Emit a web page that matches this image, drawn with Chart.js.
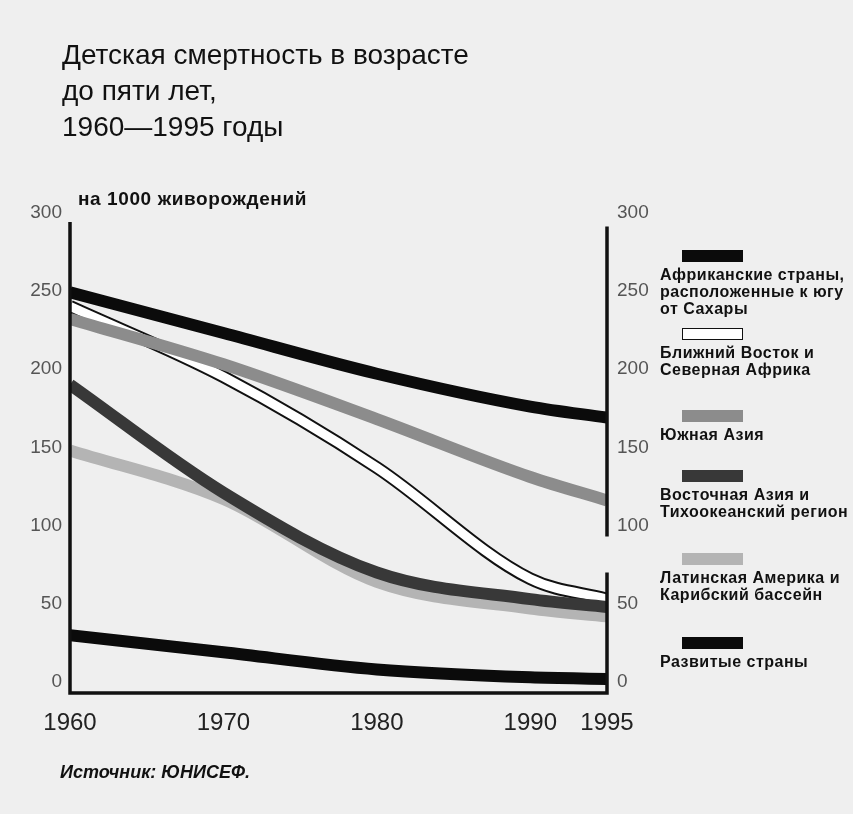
<!DOCTYPE html>
<html lang="ru">
<head>
<meta charset="utf-8">
<title>Детская смертность в возрасте до пяти лет, 1960—1995 годы</title>
<script src="https://cdn.jsdelivr.net/npm/chart.js@4.4.1/dist/chart.umd.min.js"></script>
<style>
    html, body { margin: 0; padding: 0; }
    body {
        width: 853px; height: 814px; position: relative; overflow: hidden;
        background: #efefef; color: #111;
        font-family: "Liberation Sans", Arial, sans-serif;
    }
    #chart { position: absolute; left: 0; top: 0; }
    .title { position: absolute; left: 62px; top: 37px; margin: 0; font-size: 28px; line-height: 36px; font-weight: normal; }
    .unit { position: absolute; left: 78px; top: 188px; font-size: 19px; letter-spacing: 0.6px; font-weight: bold; }
    .source { position: absolute; left: 60px; top: 762px; font-size: 18px; font-weight: bold; font-style: italic; }
    .item { position: absolute; left: 660px; }
    .item .sw { position: absolute; left: 22px; top: 0; width: 61px; height: 12px; box-sizing: border-box; }
    .item .txt { position: absolute; left: 0; top: 16px; font-size: 16px; letter-spacing: 0.5px; line-height: 17px; font-weight: bold; white-space: nowrap; }
</style>
</head>
<body>
<canvas id="chart" width="853" height="814"></canvas>
<h1 class="title">Детская смертность в возрасте<br>до пяти лет,<br>1960—1995 годы</h1>
<div class="unit">на 1000 живорождений</div>
<div class="source">Источник: ЮНИСЕФ.</div>
<div id="legend"></div>
<script>
// under-5 deaths per 1000 live births
const years = [1960, 1970, 1980, 1990, 1995];
const yearTicks = [1960, 1970, 1980, 1990, 1995];
const valueTicks = [0, 50, 100, 150, 200, 250, 300];

const africa = [249, 223, 197, 176, 169];
const middleEast = [240, 195, 137, 66, 53];
const southAsia = [232, 203, 168, 131, 116];
const eastAsia = [190, 121, 70, 53, 48];
const latinAmerica = [148, 117, 64, 47, 42];
const developed = [30, 19, 8, 3, 2];

const regionNames = [
    ["Африканские страны,", "расположенные к югу", "от Сахары"],
    ["Ближний Восток и", "Северная Африка"],
    ["Южная Азия"],
    ["Восточная Азия и", "Тихоокеанский регион"],
    ["Латинская Америка и", "Карибский бассейн"],
    ["Развитые страны"]
];

// layout
const legendTops = [250, 328, 410, 470, 553, 637];
const BAND = 12;

const pts = vals => vals.map((v, i) => ({ x: years[i], y: v }));

function band(data, color, order, width) {
    return {
        data: pts(data),
        borderColor: color,
        borderWidth: width || BAND,
        borderCapStyle: "butt",
        borderJoinStyle: "round",
        cubicInterpolationMode: "monotone",
        pointRadius: 0,
        fill: false,
        order: order
    };
}

// white band drawn over a slightly wider black one gives the outlined line
const datasets = [
    band(africa, "#0b0b0b", 1),
    band(middleEast, "#ffffff", 4, 9),
    band(middleEast, "#111111", 5, 13),
    band(southAsia, "#8c8c8c", 3),
    band(eastAsia, "#383838", 2),
    band(latinAmerica, "#b4b4b4", 6),
    band(developed, "#0b0b0b", 1)
];

const swatchStyles = [
    { background: "#0b0b0b" },
    { background: "#ffffff", border: "1.5px solid #111" },
    { background: "#8c8c8c" },
    { background: "#383838" },
    { background: "#b4b4b4" },
    { background: "#0b0b0b" }
];

// frame: left and bottom axes, right axis with a short break near 70-93
const axisLines = {
    id: "axisLines",
    afterDatasetsDraw(chart) {
        const { ctx, chartArea: a, scales } = chart;
        const y = scales.y;
        ctx.save();
        ctx.strokeStyle = "#111";
        ctx.lineWidth = 3.5;
        ctx.beginPath();
        ctx.moveTo(a.left, y.getPixelForValue(294));
        ctx.lineTo(a.left, a.bottom);
        ctx.moveTo(a.left - 1.75, a.bottom);
        ctx.lineTo(a.right + 1.75, a.bottom);
        ctx.moveTo(a.right, y.getPixelForValue(291));
        ctx.lineTo(a.right, y.getPixelForValue(93));
        ctx.moveTo(a.right, y.getPixelForValue(70));
        ctx.lineTo(a.right, a.bottom);
        ctx.stroke();
        ctx.restore();
    }
};

const tickFont = { family: "'Liberation Sans', Arial, sans-serif", size: 19 };

new Chart(document.getElementById("chart"), {
    type: "line",
    data: { datasets },
    options: {
        responsive: false,
        animation: false,
        layout: { padding: { top: 212.5, left: 0, right: 0, bottom: 0 } },
        plugins: { legend: { display: false }, tooltip: { enabled: false } },
        scales: {
            x: {
                type: "linear",
                min: 1960,
                max: 1995,
                afterBuildTicks: s => { s.ticks = yearTicks.map(v => ({ value: v })); },
                afterFit: s => { s.height = 814 - 693; },
                grid: { display: false },
                border: { display: false },
                ticks: {
                    autoSkip: false,
                    maxRotation: 0,
                    padding: 8,
                    color: "#222",
                    font: { family: tickFont.family, size: 24 },
                    callback: v => String(v)
                }
            },
            y: {
                min: -7,
                max: 300,
                afterBuildTicks: s => { s.ticks = valueTicks.map(v => ({ value: v })); },
                afterFit: s => { s.width = 70; },
                grid: { display: false },
                border: { display: false },
                ticks: { padding: 0, color: "#555", font: tickFont }
            },
            y2: {
                position: "right",
                min: -7,
                max: 300,
                afterBuildTicks: s => { s.ticks = valueTicks.map(v => ({ value: v })); },
                afterFit: s => { s.width = 853 - 607; },
                grid: { display: false },
                border: { display: false },
                ticks: { padding: 2, color: "#555", font: tickFont }
            }
        }
    },
    plugins: [axisLines]
});

// legend on the right, between the right-hand tick labels
const legend = document.getElementById("legend");
regionNames.forEach((lines, i) => {
    const item = document.createElement("div");
    item.className = "item";
    item.style.top = legendTops[i] + "px";
    const sw = document.createElement("div");
    sw.className = "sw";
    Object.assign(sw.style, swatchStyles[i]);
    const txt = document.createElement("div");
    txt.className = "txt";
    txt.innerHTML = lines.join("<br>");
    item.appendChild(sw);
    item.appendChild(txt);
    legend.appendChild(item);
});
</script>
</body>
</html>
